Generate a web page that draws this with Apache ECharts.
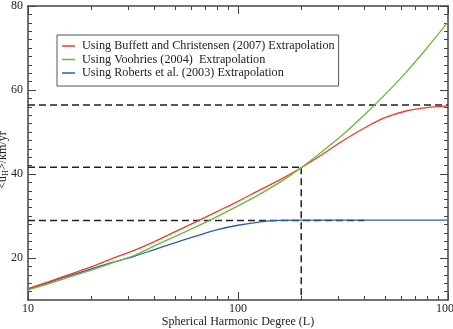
<!DOCTYPE html>
<html>
<head>
<meta charset="utf-8">
<script src="https://cdn.jsdelivr.net/npm/echarts@6/dist/echarts.min.js"></script>
<style>
html, body { margin: 0; padding: 0; background: #fff; }
#chart { width: 453px; height: 329px; }
</style>
</head>
<body>
<div id="chart"></div>
<script>
// spherical harmonic degree L
var degrees = [10, 12.6, 15.8, 20, 25, 32, 40, 50, 63, 79, 100, 126, 158, 200, 251, 316, 398, 501, 631, 794, 1000];
// <u_H> km/yr for each extrapolation
var buffett = [12.7, 14.4, 16.1, 17.9, 19.8, 21.8, 23.9, 26.2, 28.6, 31.0, 33.5, 36.1, 38.6, 41.5, 44.6, 47.9, 50.9, 53.4, 55.0, 55.8, 56.2];
var voorhies = [12.4, 13.9, 15.5, 17.1, 18.8, 20.6, 22.9, 25.1, 27.4, 29.8, 32.4, 35.1, 38.0, 41.5, 45.3, 49.4, 54.0, 58.9, 64.2, 70.0, 76.2];
var roberts = [12.6, 14.2, 15.8, 17.4, 18.9, 20.4, 22.0, 23.6, 25.2, 26.7, 27.8, 28.55, 28.95, 29.0, 29.0, 29.0, 29.0, 29.0, 29.0, 29.0, 29.0];
var names = [
	'Using Buffett and Christensen (2007) Extrapolation',
	'Using Voohries (2004)  Extrapolation',
	'Using Roberts et al. (2003) Extrapolation'
];
// dashed guide lines
var refLevels = [56.4, 41.6, 28.9];
var refEnds = [1000, 200, 400];
var refDegree = 200;
// ticks
var xMajor = [10, 100, 1000];
var xMinor = [20, 30, 40, 50, 60, 70, 80, 90, 200, 300, 400, 500, 600, 700, 800, 900];
var yMajor = [20, 40, 60, 80];
var yMinor = [12, 14, 16, 18, 22, 24, 26, 28, 30, 32, 34, 36, 38, 42, 44, 46, 48, 50, 52, 54, 56, 58, 62, 64, 66, 68, 70, 72, 74, 76, 78];

var font = 'Liberation Serif';
var axisColor = '#444';

function pairs(ys) {
	return degrees.map(function(d, i) { return [d, ys[i]]; });
}

function xAx(pos, ticks, len, main) {
	return {
		type: 'log', logBase: 10, min: 10, max: 1000, position: pos,
		axisLine: { show: main, lineStyle: { color: axisColor, width: 1.5 } },
		axisTick: { show: true, inside: true, length: len, customValues: ticks, lineStyle: { color: axisColor, width: 1 } },
		axisLabel: { show: false },
		splitLine: { show: false }
	};
}
function yAx(pos, ticks, len, main) {
	return {
		type: 'value', min: 10, max: 80, position: pos,
		axisLine: { show: main, lineStyle: { color: axisColor, width: 1.5 } },
		axisTick: { show: true, inside: true, length: len, customValues: ticks, lineStyle: { color: axisColor, width: 1 } },
		axisLabel: { show: false },
		splitLine: { show: false }
	};
}

var xAxes = [xAx('bottom', xMajor, 8, true), xAx('bottom', xMinor, 4, false), xAx('top', xMajor, 8, true), xAx('top', xMinor, 4, false)];
xAxes[0].axisLabel = {
	show: true, customValues: xMajor, color: '#222', fontFamily: font, fontSize: 12, margin: 3,
	formatter: function(v) { return String(v); }
};
xAxes[0].name = 'Spherical Harmonic Degree (L)';
xAxes[0].nameLocation = 'middle';
xAxes[0].nameGap = 16;
xAxes[0].nameMoveOverlap = false;
xAxes[0].nameTextStyle = { color: '#222', fontFamily: font, fontSize: 12 };

var yAxes = [yAx('left', yMajor, 8, true), yAx('left', yMinor, 4, false), yAx('right', yMajor, 8, true), yAx('right', yMinor, 4, false)];
yAxes[0].axisLabel = { show: true, customValues: yMajor, color: '#222', fontFamily: font, fontSize: 12, margin: 5 };
yAxes[0].name = '{a|<u}{s|H}{a|>/km/yr}';
yAxes[0].nameLocation = 'middle';
yAxes[0].nameRotate = 90;
yAxes[0].nameGap = 18;
yAxes[0].nameMoveOverlap = false;
yAxes[0].nameTextStyle = {
	color: '#222', fontFamily: font, fontSize: 12, padding: [0, 0, 0, -14],
	rich: {
		a: { fontFamily: font, fontSize: 12, color: '#222' },
		s: { fontFamily: font, fontSize: 8, color: '#222', verticalAlign: 'bottom', padding: [6, 0, 0, 0] }
	}
};

var series = [];
refLevels.forEach(function(lv, i) {
	series.push({
		type: 'line', silent: true, symbol: 'none',
		data: [[10, lv], [refEnds[i], lv]],
		lineStyle: { color: '#222', width: 1.5, type: [7, 4] }
	});
});
series.push({
	type: 'line', silent: true, symbol: 'none',
	data: [[refDegree, refLevels[1]], [refDegree, 10]],
	lineStyle: { color: '#222', width: 1.5, type: [7, 4] }
});

var colors = ['#ee3b2e', '#66bb3a', '#2f5ea8'];
[roberts, buffett, voorhies].forEach(function(ys, k) {
	var idx = [2, 0, 1][k];
	series.push({
		name: names[idx], type: 'line', symbol: 'none',
		smooth: 0.3,
		data: pairs(ys),
		lineStyle: { color: colors[idx], width: 1.3 },
		itemStyle: { color: colors[idx] }
	});
});

var myChart = echarts.init(document.getElementById('chart'));
myChart.setOption({
	animation: false,
	grid: { left: 28, right: 5, top: 6, bottom: 29, containLabel: false, outerBoundsMode: 'none' },
	legend: {
		data: names, orient: 'vertical', left: 57, top: 35,
		icon: 'rect', itemWidth: 13, itemHeight: 1.5, itemGap: 1.5,
		padding: [5, 4, 7, 5],
		borderColor: '#555', borderWidth: 1,
		textStyle: { fontFamily: font, fontSize: 12.2, color: '#222', padding: [0, 0, 0, 2] }
	},
	xAxis: xAxes,
	yAxis: yAxes,
	series: series
});
</script>
</body>
</html>
